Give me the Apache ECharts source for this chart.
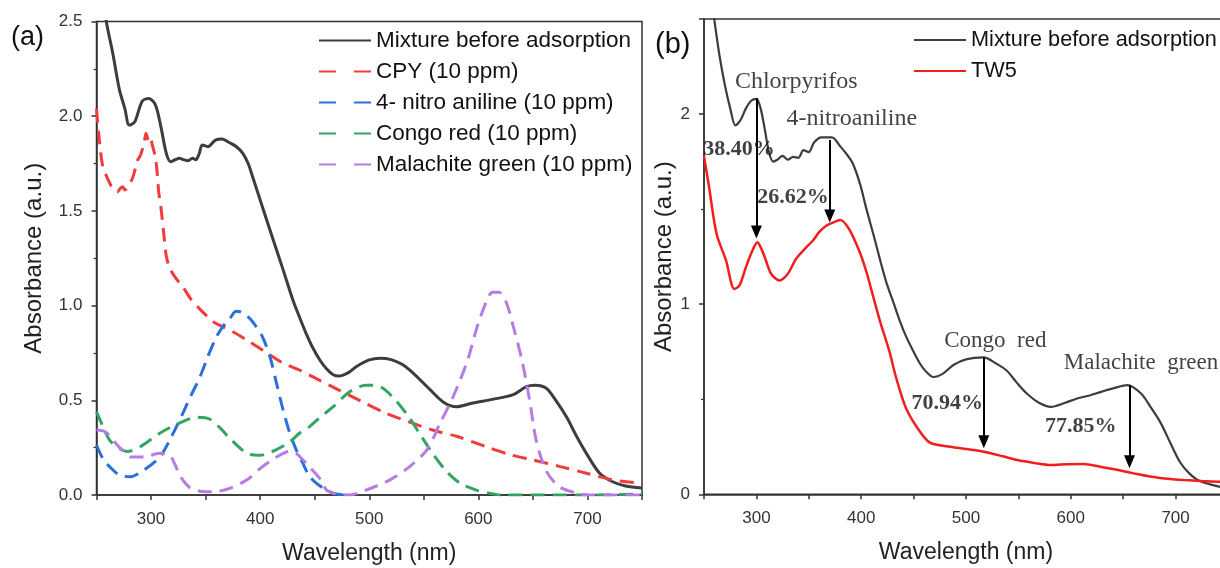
<!DOCTYPE html>
<html><head><meta charset="utf-8">
<script src="https://cdn.jsdelivr.net/npm/echarts@6/dist/echarts.min.js"></script>
<style>html,body{margin:0;padding:0;background:#fff}#c{width:1220px;height:568px}</style>
</head><body><div id="c"></div>
<script>
// ---------- DATA ----------
const xTickLabels = [300, 400, 500, 600, 700];
const yTickLabelsA = ['0.0', '0.5', '1.0', '1.5', '2.0', '2.5'];
const yTickLabelsB = ['0', '1', '2'];

// Panel (a)
const mixA_wl  = [255, 259, 265, 271, 276, 280, 285, 292, 298, 304, 309, 314, 318, 322, 326, 330, 334, 338, 341, 344, 347, 352, 359, 365, 372, 378, 384, 389, 394, 403, 412, 421, 430, 436, 442, 448, 455, 461, 467, 472, 476, 482, 488, 500, 510, 520, 530, 540, 555, 568, 580, 595, 613, 632, 644, 652, 662, 671, 681, 690, 699, 711, 723, 735, 750];
const mixA_abs = [2.68, 2.5, 2.33, 2.14, 2.04, 1.953, 1.97, 2.08, 2.094, 2.06, 1.945, 1.804, 1.76, 1.77, 1.778, 1.77, 1.765, 1.778, 1.77, 1.80, 1.848, 1.839, 1.874, 1.88, 1.86, 1.84, 1.805, 1.75, 1.664, 1.505, 1.346, 1.19, 1.03, 0.94, 0.855, 0.78, 0.71, 0.665, 0.635, 0.628, 0.633, 0.65, 0.677, 0.713, 0.722, 0.715, 0.69, 0.645, 0.56, 0.49, 0.466, 0.486, 0.505, 0.53, 0.572, 0.58, 0.565, 0.50, 0.41, 0.31, 0.22, 0.116, 0.07, 0.048, 0.037];

const cpy_wl  = [250, 252.6, 255.7, 258.7, 263, 266, 269, 272, 274, 276, 278.6, 283, 287.7, 290, 292.3, 294, 295.3, 296.5, 297.8, 299.5, 300.8, 303.8, 305.4, 307, 309, 312, 314, 317, 322, 329, 337, 345, 352, 357, 365, 375, 390, 402, 420, 436, 448, 470, 491, 516, 558, 580, 607, 631, 650, 675, 699, 723, 750];
const cpy_abs = [2.04, 1.874, 1.733, 1.69, 1.637, 1.62, 1.60, 1.62, 1.628, 1.61, 1.628, 1.672, 1.769, 1.79, 1.83, 1.87, 1.91, 1.89, 1.874, 1.89, 1.857, 1.786, 1.716, 1.60, 1.522, 1.36, 1.26, 1.20, 1.15, 1.10, 1.03, 0.98, 0.94, 0.915, 0.89, 0.862, 0.81, 0.766, 0.70, 0.66, 0.625, 0.56, 0.50, 0.43, 0.343, 0.31, 0.255, 0.21, 0.185, 0.15, 0.115, 0.08, 0.062];

const nitro_wl  = [250, 256, 262, 271, 281, 293, 308, 318, 329, 337, 345, 352, 360, 366, 372, 378, 383, 388, 393, 402, 409, 415, 421, 427, 433, 439, 445, 452, 461, 470, 480];
const nitro_abs = [0.264, 0.19, 0.15, 0.105, 0.097, 0.13, 0.20, 0.30, 0.43, 0.53, 0.625, 0.73, 0.836, 0.89, 0.93, 0.97, 0.965, 0.945, 0.915, 0.836, 0.73, 0.59, 0.45, 0.33, 0.24, 0.17, 0.10, 0.06, 0.026, 0.005, 0.0];

const congo_wl  = [250, 256, 262, 270, 278, 290, 308, 326, 342, 354, 364, 372, 388, 400, 415, 427, 436, 445, 455, 467, 482, 497, 510, 521, 534, 546, 558, 570, 583, 598, 610, 620, 700, 750];
const congo_abs = [0.44, 0.36, 0.29, 0.25, 0.23, 0.255, 0.326, 0.38, 0.41, 0.40, 0.35, 0.30, 0.22, 0.21, 0.24, 0.28, 0.326, 0.36, 0.41, 0.466, 0.545, 0.58, 0.572, 0.52, 0.43, 0.326, 0.22, 0.13, 0.063, 0.026, 0.01, 0.0, 0.0, 0.005];

const mg_wl  = [250, 258, 264, 269, 275, 281, 293, 308, 317, 322, 327, 336, 345, 357, 372, 388, 400, 415, 427, 433, 445, 455, 461, 470, 482, 497, 519, 537, 553, 565, 577, 590, 599, 608, 613, 619, 626, 632, 640, 647, 653, 662, 674, 690, 700, 750];
const mg_abs = [0.343, 0.334, 0.30, 0.264, 0.23, 0.20, 0.20, 0.22, 0.21, 0.16, 0.097, 0.037, 0.02, 0.017, 0.035, 0.08, 0.14, 0.20, 0.23, 0.22, 0.15, 0.085, 0.026, 0.005, 0.0, 0.026, 0.08, 0.15, 0.24, 0.38, 0.52, 0.71, 0.89, 1.03, 1.07, 1.07, 1.01, 0.89, 0.71, 0.50, 0.29, 0.13, 0.044, 0.01, 0.0, 0.0];

// Panel (b)
const mixB_wl  = [255, 260, 265, 270, 275, 280, 285, 290, 295, 300, 304, 308, 312, 316, 320, 325, 330, 335, 340, 345, 350, 355, 362, 372, 380, 386, 392, 399, 405, 412, 418, 424, 431, 437, 443, 450, 456, 462, 469, 478, 488, 500, 517, 528, 539, 548, 558, 570, 581, 594, 606, 618, 629, 642, 654, 667, 676, 686, 695, 704, 713, 723, 742, 750];
const mixB_abs = [2.7, 2.49, 2.3, 2.15, 2.03, 1.94, 1.97, 2.03, 2.07, 2.08, 2.03, 1.92, 1.80, 1.75, 1.76, 1.78, 1.76, 1.775, 1.77, 1.81, 1.80, 1.85, 1.877, 1.877, 1.83, 1.79, 1.74, 1.63, 1.50, 1.36, 1.233, 1.115, 1.005, 0.91, 0.828, 0.75, 0.688, 0.645, 0.617, 0.635, 0.68, 0.71, 0.72, 0.69, 0.65, 0.59, 0.53, 0.48, 0.46, 0.48, 0.504, 0.52, 0.539, 0.56, 0.574, 0.53, 0.46, 0.373, 0.27, 0.171, 0.11, 0.07, 0.04, 0.035];

const tw5_wl  = [250, 255, 262, 271, 279, 284, 290, 296, 301, 304, 308, 314, 322, 330, 338, 346, 354, 360, 367, 376, 380, 389, 399, 405, 409, 418, 427, 433, 443, 456, 466, 485, 500, 517, 535, 549, 565, 581, 597, 612, 628, 645, 660, 677, 695, 708, 725, 742, 750];
const tw5_abs = [1.78, 1.61, 1.37, 1.23, 1.08, 1.10, 1.195, 1.28, 1.326, 1.30, 1.247, 1.16, 1.125, 1.16, 1.24, 1.29, 1.335, 1.38, 1.414, 1.436, 1.443, 1.39, 1.268, 1.17, 1.09, 0.91, 0.75, 0.62, 0.45, 0.33, 0.27, 0.25, 0.238, 0.224, 0.20, 0.18, 0.165, 0.154, 0.158, 0.159, 0.145, 0.128, 0.11, 0.092, 0.08, 0.075, 0.07, 0.066, 0.064];

// Removal arrows (wavelength, start absorbance, arrow-head absorbance)
const arrow_wl   = [300, 370, 517, 656];
const arrow_from = [2.083, 1.864, 0.72, 0.575];
const arrow_to   = [1.38, 1.464, 0.277, 0.171];

// Annotations
const peakNames    = ['Chlorpyrifos', '4-nitroaniline', 'Congo  red', 'Malachite  green'];
const peakName_wl  = [338, 391, 528, 667];
const peakName_abs = [2.168, 1.975, 0.805, 0.69];
const pctTexts     = ['38.40%', '26.62%', '70.94%', '77.85%'];
const pct_wl       = [283.5, 335, 482, 609.5];
const pct_abs      = [1.817, 1.562, 0.48, 0.357];

// ---------- CHART ----------
const pairs = (xs, ys) => xs.map((x, i) => [x, ys[i]]);
const FONT = 'Liberation Sans, Arial, sans-serif';
const SERIF = 'Liberation Serif, Times New Roman, serif';
const AX = '#333';

function xAxisCfg(gi) {
  return {
    type: 'value', gridIndex: gi, min: 250, max: 750, interval: 50,
    name: 'Wavelength (nm)', nameLocation: 'middle', nameGap: 47,
    nameTextStyle: { fontSize: 23, color: '#222', fontFamily: FONT },
    axisLine: { show: true, onZero: false, lineStyle: { color: AX, width: 1.5 } },
    axisTick: { show: true, inside: false, length: 5, lineStyle: { color: AX, width: 1.5 } },
    axisLabel: { fontSize: 17, color: '#333', margin: 16, fontFamily: FONT,
      formatter: v => xTickLabels.indexOf(v) >= 0 ? String(v) : '' },
    splitLine: { show: false }
  };
}
function yAxisCfg(gi, interval, labels, gap) {
  return {
    type: 'value', gridIndex: gi, min: 0, max: 2.5, interval: interval,
    name: 'Absorbance (a.u.)', nameLocation: 'middle', nameGap: gap,
    nameTextStyle: { fontSize: 24, color: '#222', fontFamily: FONT },
    axisLine: { show: true, onZero: false, lineStyle: { color: AX, width: 1.5 } },
    axisTick: { show: true, inside: false, length: 5, lineStyle: { color: AX, width: 1.5 } },
    minorTick: { show: true, splitNumber: 2, length: 3, lineStyle: { color: AX, width: 1.2 } },
    axisLabel: { fontSize: 17, color: '#333', margin: 14, fontFamily: FONT,
      formatter: v => { const i = Math.round(v / interval); return (Math.abs(v - i * interval) < 1e-6 && labels[i] !== undefined) ? labels[i] : ''; } },
    splitLine: { show: false }
  };
}
function lineSeries(name, xs, ys, color, width, dash, xi) {
  return {
    type: 'line', name: name, xAxisIndex: xi, yAxisIndex: xi,
    data: pairs(xs, ys), showSymbol: false, symbol: 'none', smooth: 0.3,
    clip: true, silent: true,
    lineStyle: { color: color, width: width, type: dash ? [14, 8] : 'solid' },
    itemStyle: { color: color }, z: 3
  };
}

const annData = [];
peakNames.forEach((t, i) => annData.push({ value: [peakName_wl[i], peakName_abs[i]],
  label: { formatter: t, fontFamily: SERIF, fontSize: i < 2 ? 24 : 23, color: '#111', fontWeight: 'normal' } }));
pctTexts.forEach((t, i) => annData.push({ value: [pct_wl[i], pct_abs[i]],
  label: { formatter: t, fontFamily: SERIF, fontSize: 22, color: '#111', fontWeight: 'bold' } }));

const arrowData = arrow_wl.map((w, i) => [{ coord: [w, arrow_from[i]] }, { coord: [w, arrow_to[i]] }]);

const C_BLACK = '#3d3d3d', C_RED = '#f23b3b', C_BLUE = '#2a6fdc', C_GREEN = '#34a463', C_PURP = '#b57ce6', C_RED2 = '#f01e1e';

const option = {
  animation: false,
  backgroundColor: '#fff',
  grid: [
    { left: 96.5, top: 21.5, width: 545.5, height: 473.5, show: true, borderColor: AX, borderWidth: 1.5, backgroundColor: 'transparent', containLabel: false, outerBoundsMode: 'none' },
    { left: 704, top: 19, width: 524, height: 475.3, show: true, borderColor: AX, borderWidth: 1.5, backgroundColor: 'transparent', containLabel: false, outerBoundsMode: 'none' }
  ],
  xAxis: [xAxisCfg(0), xAxisCfg(1)],
  yAxis: [yAxisCfg(0, 0.5, yTickLabelsA, 50), yAxisCfg(1, 1, yTickLabelsB, 28)],
  legend: [
    { data: [
        { name: 'Mixture before adsorption' },
        { name: 'CPY (10 ppm)', lineStyle: { type: [17, 18] } },
        { name: '4- nitro aniline (10 ppm)', lineStyle: { type: [17, 18] } },
        { name: 'Congo red (10 ppm)', lineStyle: { type: [17, 18] } },
        { name: 'Malachite green (10 ppm)', lineStyle: { type: [17, 18] } }
      ],
      orient: 'vertical', left: 318, top: 29, padding: 0, itemWidth: 52, itemHeight: 14, itemGap: 8,
      itemStyle: { opacity: 0 }, selectedMode: false,
      textStyle: { fontSize: 22.5, lineHeight: 22, color: '#111', fontFamily: FONT } },
    { data: [{ name: 'Mixture before adsorption' }, { name: 'TW5' }],
      orient: 'vertical', left: 913, top: 29, padding: 0, itemWidth: 52, itemHeight: 14, itemGap: 9,
      itemStyle: { opacity: 0 }, selectedMode: false,
      textStyle: { fontSize: 21.7, lineHeight: 22, color: '#111', fontFamily: FONT } }
  ],
  graphic: [
    { type: 'text', x: 11, y: 38, style: { text: '(a)', fontSize: 27, fontFamily: FONT, fill: '#111', verticalAlign: 'middle' } },
    { type: 'text', x: 655, y: 45, style: { text: '(b)', fontSize: 29, fontFamily: FONT, fill: '#111', verticalAlign: 'middle' } }
  ],
  series: [
    lineSeries('Mixture before adsorption', mixA_wl, mixA_abs, C_BLACK, 3, false, 0),
    lineSeries('CPY (10 ppm)', cpy_wl, cpy_abs, C_RED, 3, true, 0),
    lineSeries('4- nitro aniline (10 ppm)', nitro_wl, nitro_abs, C_BLUE, 3, true, 0),
    lineSeries('Congo red (10 ppm)', congo_wl, congo_abs, C_GREEN, 3, true, 0),
    lineSeries('Malachite green (10 ppm)', mg_wl, mg_abs, C_PURP, 3, true, 0),
    lineSeries('Mixture before adsorption', mixB_wl, mixB_abs, C_BLACK, 2.2, false, 1),
    Object.assign(lineSeries('TW5', tw5_wl, tw5_abs, C_RED2, 2.5, false, 1), {
      markLine: {
        silent: true, symbol: ['none', 'triangle'], symbolSize: [11, 13], precision: 3,
        label: { show: false },
        lineStyle: { color: '#000', width: 2, type: 'solid' },
        itemStyle: { color: '#000' },
        emphasis: { disabled: true },
        data: arrowData
      }
    }),
    {
      type: 'scatter', name: '__ann', xAxisIndex: 1, yAxisIndex: 1, symbolSize: 0, silent: true, z: 10,
      label: { show: true, position: 'inside' },
      data: annData
    }
  ]
};

const chart = echarts.init(document.getElementById('c'), null, { renderer: 'canvas' });
chart.setOption(option);
</script>
</body></html>
